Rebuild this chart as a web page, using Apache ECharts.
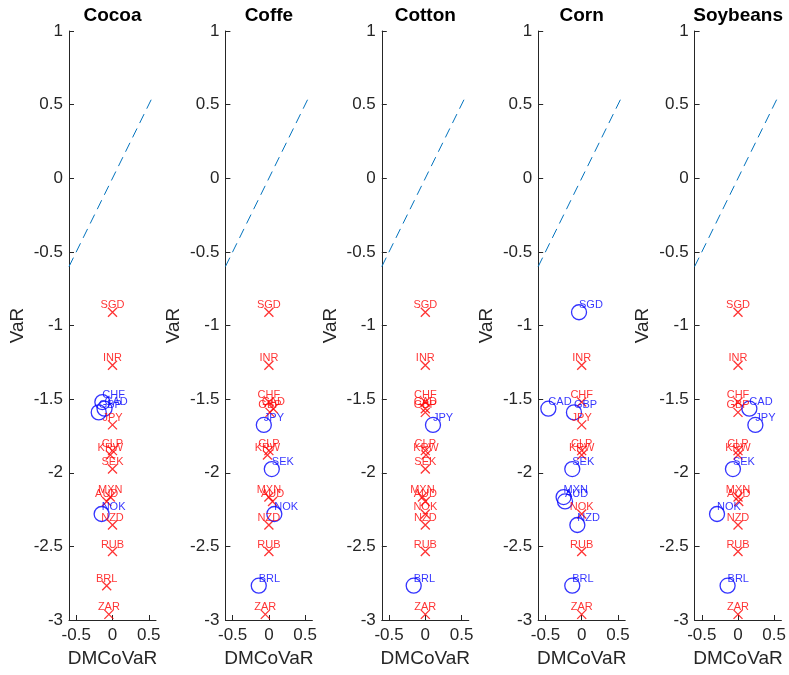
<!DOCTYPE html>
<html>
<head>
<meta charset="utf-8">
<script src="https://cdn.jsdelivr.net/npm/echarts@6/dist/echarts.min.js"></script>
<style>
html, body { margin: 0; padding: 0; background: #fff; }
#chart { width: 789px; height: 675px; }
</style>
</head>
<body>
<div id="chart"></div>
<script>
// commodities (one panel each)
var commodities = ['Cocoa', 'Coffe', 'Cotton', 'Corn', 'Soybeans'];
var currencies = ['SGD', 'INR', 'CHF', 'CAD', 'GBP', 'JPY', 'CLP', 'KRW', 'SEK', 'MXN', 'AUD', 'NOK', 'NZD', 'RUB', 'BRL', 'ZAR'];
var varValues = [-0.91, -1.27, -1.52, -1.565, -1.59, -1.675, -1.85, -1.88, -1.975, -2.165, -2.195, -2.28, -2.355, -2.535, -2.767, -2.962];

// DMCoVaR per commodity, same order as currencies
var dmCocoa  = [0, 0, -0.14, -0.11, -0.19, 0, 0, -0.03, 0, -0.03, -0.08, -0.15, 0, 0, -0.08, -0.05];
var dmCoffe  = [0, 0, 0, 0.06, 0.015, -0.07, 0, -0.02, 0.04, 0, 0.05, 0.075, 0, 0, -0.14, -0.05];
var dmCotton = [0, 0, 0, 0, 0, 0.106, 0, 0.01, 0, -0.04, 0, 0, 0, 0, -0.16, 0];
var dmCorn   = [-0.037, 0, 0, -0.46, -0.107, 0, 0, 0, -0.13, -0.25, -0.23, 0, -0.06, 0, -0.13, 0];
var dmSoy    = [0, 0, 0, 0.157, 0, 0.24, 0, 0, -0.07, 0, 0.01, -0.29, 0, 0, -0.144, 0];

// 1 = significant (blue circle), 0 = not (red cross)
var sigCocoa  = [0, 0, 1, 1, 1, 0, 0, 0, 0, 0, 0, 1, 0, 0, 0, 0];
var sigCoffe  = [0, 0, 0, 0, 0, 1, 0, 0, 1, 0, 0, 1, 0, 0, 1, 0];
var sigCotton = [0, 0, 0, 0, 0, 1, 0, 0, 0, 0, 0, 0, 0, 0, 1, 0];
var sigCorn   = [1, 0, 0, 1, 1, 0, 0, 0, 1, 1, 1, 0, 1, 0, 1, 0];
var sigSoy    = [0, 0, 0, 1, 0, 1, 0, 0, 1, 0, 0, 1, 0, 0, 1, 0];

var lineX = [-0.6, 0.56];
var xTicks = [-0.5, 0, 0.5];

var dmAll = [dmCocoa, dmCoffe, dmCotton, dmCorn, dmSoy];
var sigAll = [sigCocoa, sigCoffe, sigCotton, sigCorn, sigSoy];

var font = "'Liberation Sans', Arial, Helvetica, sans-serif";
var axisColor = '#262626';
var crossPath = 'path://M0,0L10,10M10,0L0,10';

var grids = [], xAxes = [], yAxes = [], titles = [], series = [];

for (var i = 0; i < commodities.length; i++) {
	var left = 69 + i * 156.4;
	grids.push({ left: left, top: 31, width: 87, height: 589 });
	titles.push({
		text: commodities[i],
		left: left + 43.5,
		top: 6,
		padding: 0,
		textAlign: 'center',
		textStyle: { fontFamily: font, fontSize: 19, fontWeight: 'bold', color: '#000' }
	});
	xAxes.push({
		gridIndex: i,
		type: 'value',
		min: -0.6,
		max: 0.6,
		name: 'DMCoVaR',
		nameLocation: 'middle',
		nameGap: 27,
		nameTextStyle: { fontFamily: font, fontSize: 19, color: axisColor },
		axisLine: { onZero: false, lineStyle: { color: axisColor, width: 1 } },
		axisTick: { inside: true, length: 5, customValues: xTicks, lineStyle: { color: axisColor } },
		axisLabel: { customValues: xTicks, margin: 7, fontFamily: font, fontSize: 17, color: axisColor },
		splitLine: { show: false }
	});
	yAxes.push({
		gridIndex: i,
		type: 'value',
		min: -3,
		max: 1,
		interval: 0.5,
		name: 'VaR',
		nameLocation: 'middle',
		nameRotate: 90,
		nameGap: 42,
		nameTextStyle: { fontFamily: font, fontSize: 19, color: axisColor },
		axisLine: { show: true, onZero: false, lineStyle: { color: axisColor, width: 1 } },
		axisTick: { show: true, inside: true, length: 5, lineStyle: { color: axisColor } },
		axisLabel: { margin: 6, fontFamily: font, fontSize: 17, color: axisColor },
		splitLine: { show: false }
	});

	var red = [], blue = [];
	for (var j = 0; j < currencies.length; j++) {
		var pt = { name: currencies[j], value: [dmAll[i][j], varValues[j]] };
		if (sigAll[i][j]) blue.push(pt); else red.push(pt);
	}

	series.push({
		type: 'line',
		xAxisIndex: i, yAxisIndex: i,
		data: [[lineX[0], lineX[0]], [lineX[1], lineX[1]]],
		symbol: 'none',
		silent: true,
		lineStyle: { color: '#0072BD', width: 1, type: [10, 6] }
	});
	series.push({
		type: 'scatter',
		xAxisIndex: i, yAxisIndex: i,
		data: red,
		symbol: crossPath,
		symbolSize: 9,
		itemStyle: { color: 'none', borderColor: '#FF0000', borderWidth: 1.3 },
		label: {
			show: true, formatter: '{b}', position: 'inside', offset: [0, -7],
			align: 'center', color: '#FF0000', fontFamily: font, fontSize: 11
		}
	});
	series.push({
		type: 'scatter',
		xAxisIndex: i, yAxisIndex: i,
		data: blue,
		symbol: 'circle',
		symbolSize: 15,
		itemStyle: { color: 'none', borderColor: '#0000FF', borderWidth: 1.3 },
		label: {
			show: true, formatter: '{b}', position: 'inside', offset: [0, -7],
			align: 'left', color: '#0000FF', fontFamily: font, fontSize: 11
		}
	});
}

var chart = echarts.init(document.getElementById('chart'));
chart.setOption({
	animation: false,
	title: titles,
	grid: grids,
	xAxis: xAxes,
	yAxis: yAxes,
	series: series
});
</script>
</body>
</html>
